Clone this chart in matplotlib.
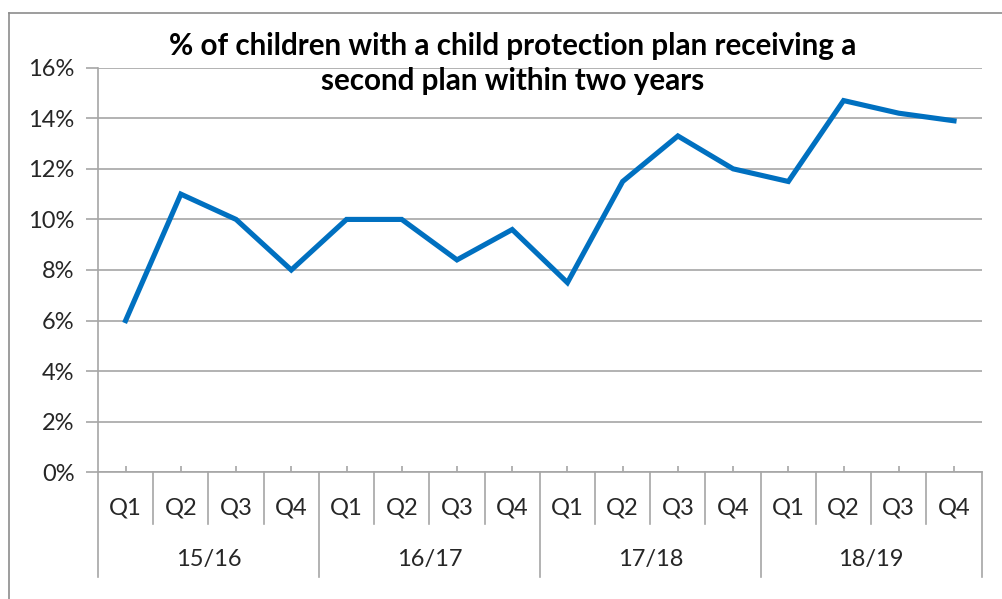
import numpy as np
import matplotlib.pyplot as plt
from matplotlib.ticker import PercentFormatter
from matplotlib.lines import Line2D

years = ["15/16", "16/17", "17/18", "18/19"]
quarters = ["Q1", "Q2", "Q3", "Q4"]
values = [6.0, 11.0, 10.0, 8.0,
          10.0, 10.0, 8.4, 9.6,
          7.5, 11.5, 13.3, 12.0,
          11.5, 14.7, 14.2, 13.9]

plt.rcParams['font.family'] = ['Lato', 'DejaVu Sans']
grey = "#a6a6a6"

fig = plt.figure(figsize=(10.03, 5.99), dpi=100)
ax = fig.add_axes([0.0977, 0.2115, 0.881, 0.6755])

x = np.arange(len(values))
ax.plot(x, values, color="#0070c0", linewidth=3.7, solid_joinstyle="miter")

ax.set_xlim(-0.5, len(values) - 0.5)
ax.set_ylim(0, 16)
ax.set_yticks(np.arange(0, 17, 2))
ax.yaxis.set_major_formatter(PercentFormatter(decimals=0))
ax.grid(axis="y", color=grey, linewidth=1.2)
ax.set_axisbelow(True)
for s in ["top", "right"]:
    ax.spines[s].set_visible(False)
ax.spines["left"].set_color(grey)
ax.spines["bottom"].set_color(grey)
ax.spines["left"].set_linewidth(1.2)
ax.spines["bottom"].set_linewidth(1.2)
ax.tick_params(axis="y", length=9, width=1.2, color=grey, labelsize=17,
               labelcolor="#262626", pad=8)

# small ticks on the category axis pointing up
ax.set_xticks(x)
ax.set_xticklabels([])
ax.tick_params(axis="x", direction="in", length=4, width=1.2, color=grey)

# two-level category labels
tr = ax.get_xaxis_transform()
for i in range(len(values)):
    ax.text(i, -0.088, quarters[i % 4], transform=tr, ha="center", va="center",
            fontsize=17, color="#262626")
for j, yr in enumerate(years):
    ax.text(j * 4 + 1.5, -0.216, yr, transform=tr, ha="center", va="center",
            fontsize=17, color="#262626")
for k in range(len(values) + 1):
    bottom = -0.259 if k % 4 == 0 else -0.128
    ax.add_line(Line2D([k - 0.5, k - 0.5], [0, bottom], transform=tr,
                       color=grey, linewidth=1.2, clip_on=False))

fig.text(0.511, 0.894, "% of children with a child protection plan receiving a\nsecond plan within two years",
         ha="center", va="center", fontsize=21.3, fontweight="bold",
         linespacing=1.32, color="black")

# outer chart border (top and left visible)
fig.add_artist(Line2D([9 / 1003, 1], [1 - 13 / 599, 1 - 13 / 599],
                      transform=fig.transFigure, color="#8c8c8c", linewidth=1.2))
fig.add_artist(Line2D([9 / 1003, 9 / 1003], [0, 1 - 13 / 599],
                      transform=fig.transFigure, color="#8c8c8c", linewidth=1.2))

fig.savefig("out.png", dpi=100)
